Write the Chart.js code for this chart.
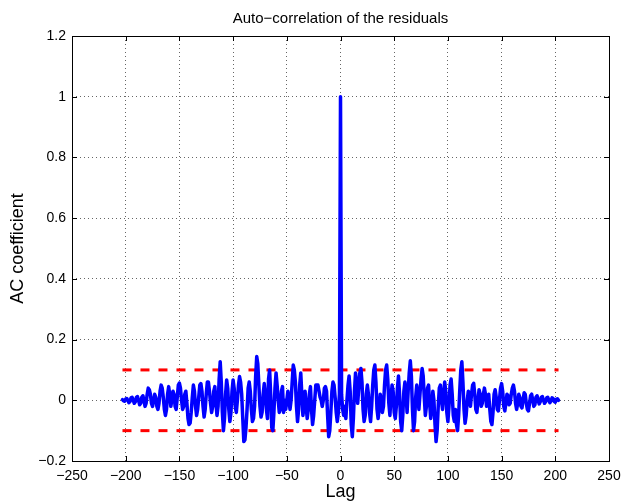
<!DOCTYPE html>
<html>
<head>
<meta charset="utf-8">
<title>Auto-correlation of the residuals</title>
<script src="https://cdn.jsdelivr.net/npm/chart.js@4.4.0/dist/chart.umd.min.js"></script>
<style>
  html, body { margin: 0; padding: 0; background: #fff; }
  #wrap { width: 621px; height: 502px; }
</style>
</head>
<body>
<div id="wrap"><canvas id="acChart" width="621" height="502"></canvas></div>
<script>
// Coeficientes (lag -203 ... -1)
const acNeg = [
  0.002, -0.002, -0.003, 0.004, 0.006, 0.00, -0.008, -0.004, 0.008, 0.01,
  0.00, -0.01, -0.005, 0.01, 0.012, 0.00, -0.015, -0.01, 0.01, 0.015,
  0.00, -0.02, -0.01, 0.02, 0.04, 0.035, 0.02, -0.01, -0.02, 0.00,
  0.02, 0.01, -0.02, -0.03, -0.01, 0.03, 0.05, 0.04, 0.01, -0.03,
  -0.05, -0.03, 0.02, 0.045, 0.02, -0.02, 0.00, 0.03, 0.02, -0.02,
  -0.03, 0.01, 0.05, 0.057, 0.04, 0.00, -0.03, -0.02, 0.02, 0.03,
  -0.01, -0.06, -0.08, -0.075, -0.04, 0.01, 0.05, 0.03, -0.02, -0.05,
  -0.03, 0.01, 0.05, 0.055, 0.03, -0.02, -0.055, -0.03, 0.02, 0.06,
  0.06, 0.03, -0.01, -0.04, -0.02, 0.03, 0.045, -0.01, -0.05, -0.02,
  0.07, 0.127, 0.06, -0.04, -0.10, -0.06, 0.02, 0.067, 0.04, -0.03,
  -0.07, -0.04, 0.03, 0.067, 0.04, -0.02, -0.04, 0.00, 0.05, 0.078,
  0.06, 0.02, -0.06, -0.136, -0.13, -0.09, -0.03, 0.04, 0.06, 0.03,
  -0.03, -0.07, -0.06, -0.02, 0.08, 0.144, 0.12, 0.05, -0.02, -0.055,
  -0.04, 0.02, 0.055, 0.02, -0.03, -0.06, 0.07, 0.10, 0.02, -0.09,
  -0.10, -0.04, 0.04, 0.09, 0.05, 0.00, -0.04, -0.03, 0.03, 0.045,
  -0.04, 0.00, -0.03, 0.00, 0.03, 0.00, -0.03, 0.00, 0.06, 0.116,
  0.10, 0.06, -0.02, -0.07, -0.03, 0.05, 0.09, 0.02, -0.05, -0.02,
  0.03, -0.02, -0.06, -0.03, 0.02, 0.045, -0.03, -0.08, -0.05, 0.00,
  0.05, 0.05, 0.05, 0.03, 0.01, 0.00, -0.02, 0.00, 0.04, 0.045,
  0.03, -0.05, -0.12, -0.10, -0.04, 0.03, 0.06, 0.05, 0.01, -0.04,
  -0.07, -0.04, 0.02
];

// Coeficientes (lag 0 ... 203)
const acPos = [
  1.00, 0.02, -0.03, -0.05, -0.02, -0.06, 0.00, 0.05, 0.08, 0.03,
  -0.08, -0.12, -0.06, 0.03, 0.09, 0.06, -0.01, 0.04, 0.09, 0.105,
  0.06, -0.03, -0.07, -0.05, 0.02, 0.05, 0.02, -0.04, -0.07, -0.02,
  0.05, 0.10, 0.116, 0.06, -0.03, -0.06, -0.03, 0.02, 0.00, -0.04,
  -0.02, 0.05, 0.10, 0.116, 0.07, -0.01, -0.05, 0.01, 0.05, 0.03,
  -0.04, -0.06, -0.02, 0.04, 0.08, 0.02, -0.07, -0.10, -0.05, 0.03,
  0.06, 0.02, -0.04, 0.03, 0.09, 0.13, 0.08, -0.03, -0.10, -0.07,
  0.01, 0.05, 0.02, -0.03, 0.02, 0.07, 0.105, 0.08, 0.01, -0.05,
  -0.02, 0.04, 0.05, -0.01, -0.06, -0.03, 0.03, 0.00, -0.08, -0.136,
  -0.10, -0.02, 0.04, 0.05, 0.00, -0.03, 0.02, 0.06, 0.03, -0.04,
  -0.07, -0.02, 0.05, 0.07, 0.02, -0.05, -0.07, -0.03, -0.08, -0.10,
  -0.05, 0.03, 0.10, 0.127, 0.06, -0.03, -0.076, -0.05, 0.00, 0.03,
  0.01, -0.02, 0.02, 0.05, 0.056, 0.02, -0.03, -0.04, 0.00, 0.035,
  0.02, -0.02, -0.01, 0.02, 0.04, 0.02, -0.02, -0.01, 0.02, -0.03,
  -0.07, -0.08, -0.04, 0.02, 0.035, 0.01, -0.03, -0.035, 0.00, 0.04,
  0.055, 0.03, -0.02, -0.035, -0.01, 0.02, 0.015, -0.015, -0.01, 0.02,
  0.04, 0.05, 0.03, -0.01, -0.03, -0.01, 0.02, 0.01, -0.02, -0.025,
  0.00, 0.025, 0.02, -0.01, -0.03, -0.035, -0.01, 0.015, 0.02, 0.00,
  -0.02, -0.015, 0.01, 0.015, 0.00, -0.012, -0.005, 0.01, 0.012, 0.00,
  -0.01, -0.005, 0.008, 0.01, 0.0, -0.008, -0.002, 0.008, 0.006, -0.004,
  -0.006, 0.003, 0.005, 0.0
];

// Límites de confianza (línea roja discontinua)
const boundLags = [-203, 203];
const upperBound = [0.1, 0.1];
const lowerBound = [-0.1, -0.1];

// Ticks de los ejes
const xTicks = [-250, -200, -150, -100, -50, 0, 50, 100, 150, 200, 250];
const yTicks = [-0.2, 0, 0.2, 0.4, 0.6, 0.8, 1, 1.2];

const FONT = "'Liberation Sans', Arial, Helvetica, sans-serif";

// Puntos de la autocorrelación
const acPoints = [];
acNeg.forEach((v, i) => acPoints.push({ x: i - acNeg.length, y: v }));
acPos.forEach((v, i) => acPoints.push({ x: i, y: v }));

const upperPoints = boundLags.map((l, i) => ({ x: l, y: upperBound[i] }));
const lowerPoints = boundLags.map((l, i) => ({ x: l, y: lowerBound[i] }));

function fmt(v) {
  const r = Math.round(v * 10) / 10;
  return String(r).replace("-", "\u2212");
}

// Caja y marcas hacia dentro al estilo MATLAB
const matlabBox = {
  id: "matlabBox",
  afterDraw(chart) {
    const { ctx, chartArea: a, scales } = chart;
    ctx.save();
    ctx.strokeStyle = "#000";
    ctx.lineWidth = 1;
    ctx.beginPath();
    const len = 5;
    xTicks.forEach((t) => {
      const x = Math.round(scales.x.getPixelForValue(t)) + 0.5;
      ctx.moveTo(x, a.bottom);
      ctx.lineTo(x, a.bottom - len);
      ctx.moveTo(x, a.top);
      ctx.lineTo(x, a.top + len);
    });
    yTicks.forEach((t) => {
      const y = Math.round(scales.y.getPixelForValue(t)) + 0.5;
      ctx.moveTo(a.left, y);
      ctx.lineTo(a.left + len, y);
      ctx.moveTo(a.right, y);
      ctx.lineTo(a.right - len, y);
    });
    ctx.stroke();
    ctx.strokeRect(Math.round(a.left) + 0.5, Math.round(a.top) + 0.5,
      Math.round(a.right - a.left), Math.round(a.bottom - a.top));
    ctx.restore();
  },
};

const gridStyle = {
  color: "rgba(0,0,0,0.6)",
  lineWidth: 1,
  drawTicks: false,
};

new Chart(document.getElementById("acChart").getContext("2d"), {
  type: "line",
  data: {
    datasets: [
      {
        data: acPoints,
        borderColor: "#0000ff",
        borderWidth: 3.5,
        borderJoinStyle: "round",
        borderCapStyle: "round",
        pointRadius: 0,
        tension: 0,
      },
      {
        data: upperPoints,
        borderColor: "#ff0000",
        borderWidth: 3,
        borderDash: [9, 9],
        pointRadius: 0,
      },
      {
        data: lowerPoints,
        borderColor: "#ff0000",
        borderWidth: 3,
        borderDash: [9, 9],
        pointRadius: 0,
      },
    ],
  },
  options: {
    responsive: false,
    animation: false,
    layout: { padding: { left: 0, right: 12, top: 0, bottom: 0 }, autoPadding: false },
    plugins: {
      legend: { display: false },
      tooltip: { enabled: false },
      title: {
        display: true,
        fullSize: false,
        text: "Auto\u2212correlation of the residuals",
        color: "#000",
        font: { family: FONT, size: 15, weight: "normal" },
        padding: { top: 10, bottom: 8 },
      },
    },
    scales: {
      x: {
        type: "linear",
        min: -250,
        max: 250,
        afterFit: (s) => {
          s.height = 41;
          s.paddingLeft = 0;
          s.paddingRight = 0;
        },
        afterBuildTicks: (s) => { s.ticks = xTicks.map((v) => ({ value: v })); },
        grid: { ...gridStyle },
        border: { display: false, dash: [1, 3] },
        ticks: {
          color: "#000",
          padding: 7,
          maxRotation: 0,
          font: { family: FONT, size: 14 },
          callback: (v) => fmt(v),
        },
        title: {
          display: true,
          text: "Lag",
          color: "#000",
          font: { family: FONT, size: 18 },
          padding: { top: 0, bottom: -1 },
        },
      },
      y: {
        min: -0.2,
        max: 1.2,
        afterFit: (s) => {
          s.width = 72;
          s.paddingTop = 0;
          s.paddingBottom = 0;
        },
        afterBuildTicks: (s) => { s.ticks = yTicks.map((v) => ({ value: v })); },
        grid: { ...gridStyle },
        border: { display: false, dash: [1, 3] },
        ticks: {
          color: "#000",
          padding: 6,
          font: { family: FONT, size: 14 },
          callback: (v) => fmt(v),
        },
        title: {
          display: true,
          text: "AC coefficient",
          color: "#000",
          font: { family: FONT, size: 18 },
          padding: { top: 7, bottom: 0 },
        },
      },
    },
  },
  plugins: [matlabBox],
});
</script>
</body>
</html>
